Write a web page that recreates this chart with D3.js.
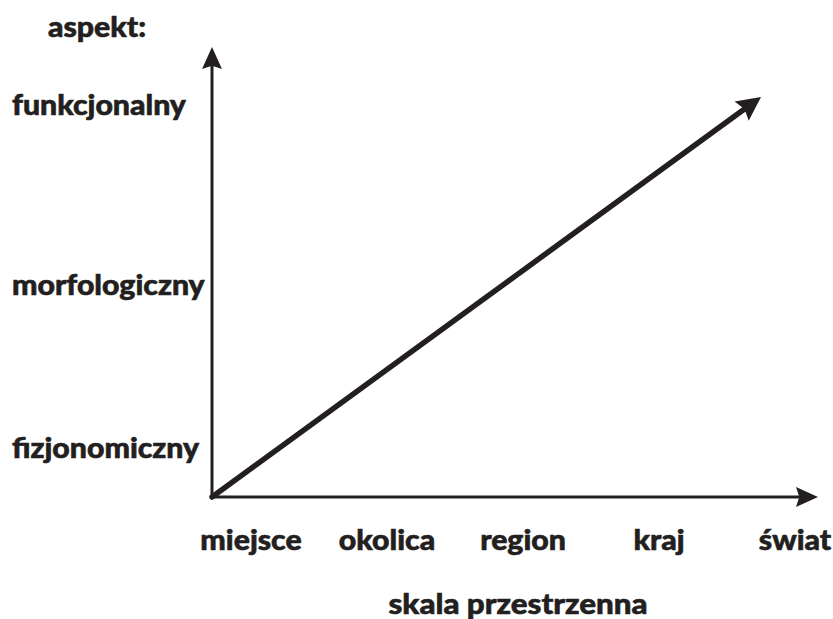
<!DOCTYPE html>
<html>
<head>
<meta charset="utf-8">
<script src="https://cdn.jsdelivr.net/npm/d3@7"></script>
<style>
  body { margin: 0; background: #fff; }
  text { font-family: Lato, "Open Sans", sans-serif; font-weight: 900; fill: #231f20; stroke: #231f20; stroke-width: 0.6px; }
</style>
</head>
<body>
<svg id="chart" width="833" height="619"></svg>
<script>
// categories on the horizontal axis (spatial scale)
const scaleLevels = ['miejsce', 'okolica', 'region', 'kraj', 'świat'];
// categories on the vertical axis (aspect) with their relative height on the axis
const aspectLevels = ['fizjonomiczny', 'morfologiczny', 'funkcjonalny'];
const aspectValues = [0.107, 0.47, 0.87];
// diagonal trend arrow, from origin to its tip (relative units)
const trendStart = [0, 0];
const trendEnd = [0.906, 0.889];

const xAxisTitle = 'skala przestrzenna';
const yAxisTitle = 'aspekt:';

const svg = d3.select('#chart');

const x = d3.scaleLinear().domain([0, 1]).range([212, 818]);
const y = d3.scaleLinear().domain([0, 1]).range([497, 47]);
const xCat = d3.scalePoint().domain(scaleLevels).range([251, 795]);

const ink = '#231f20';
const stretch = 1.08; // lettering in the source is a bit wider than Lato

// arrowhead drawn as a triangle pointing along the segment
function arrowHead(x1, y1, x2, y2, len, half) {
  const a = Math.atan2(y2 - y1, x2 - x1);
  const bx = x2 - len * Math.cos(a), by = y2 - len * Math.sin(a);
  const nx = -Math.sin(a) * half, ny = Math.cos(a) * half;
  return `M${x2},${y2}L${bx + nx},${by + ny}L${bx + len * 0.15 * Math.cos(a)},${by + len * 0.15 * Math.sin(a)}L${bx - nx},${by - ny}Z`;
}

function arrow(p0, p1, width, len, half) {
  const x1 = x(p0[0]), y1 = y(p0[1]), x2 = x(p1[0]), y2 = y(p1[1]);
  const a = Math.atan2(y2 - y1, x2 - x1);
  svg.append('line')
    .attr('x1', x1).attr('y1', y1)
    .attr('x2', x2 - len * 0.8 * Math.cos(a)).attr('y2', y2 - len * 0.8 * Math.sin(a))
    .attr('stroke', ink).attr('stroke-width', width).attr('stroke-linecap', 'round');
  svg.append('path')
    .attr('d', arrowHead(x1, y1, x2, y2, len, half))
    .attr('fill', ink);
}

// text helper: anchor point (px, py), stretched horizontally around it
function label(g, txt, px, py, size, anchor) {
  return g.append('text')
    .attr('transform', `translate(${px},${py}) scale(${stretch},1)`)
    .attr('text-anchor', anchor)
    .attr('font-size', size)
    .text(txt);
}

// axes
arrow([0, 0], [0, 1], 3, 22, 10);
arrow([0, 0], [1, 0], 3, 22, 10);
// trend
arrow(trendStart, trendEnd, 5.5, 24, 12);

// x category labels
const gx = svg.append('g');
scaleLevels.forEach(d => label(gx, d, xCat(d), 550, 28, 'middle'));

// y category labels
const gy = svg.append('g');
aspectLevels.forEach((d, i) => label(gy, d, 12, y(aspectValues[i]) + 9, 28, 'start'));

label(svg, xAxisTitle, 518, 614, 29, 'middle');
label(svg, yAxisTitle, 97, 37, 28, 'middle');
</script>
</body>
</html>
